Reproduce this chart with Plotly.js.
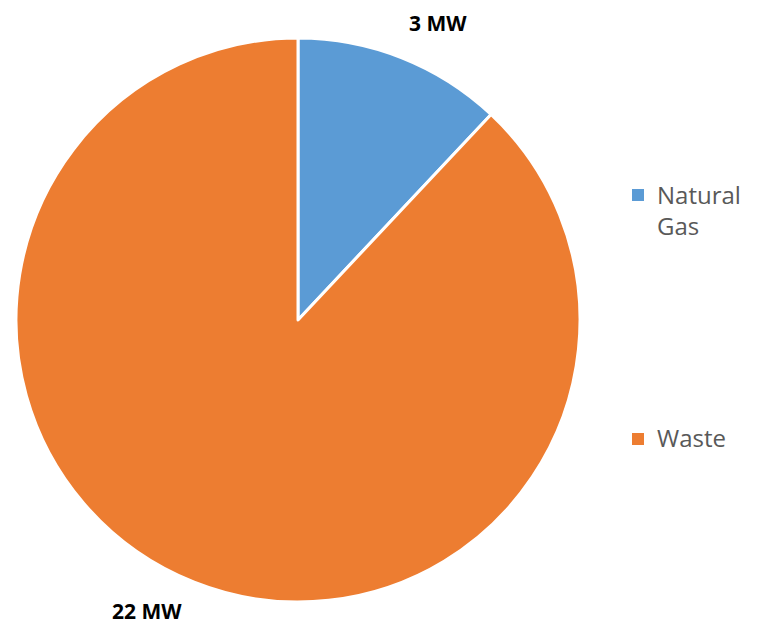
<!DOCTYPE html>
<html>
<head>
<meta charset="utf-8">
<script src="https://cdn.plot.ly/plotly-3.0.1.min.js"></script>
<style>
  html, body { margin: 0; padding: 0; background: #ffffff; }
  #chart { width: 766px; height: 626px; }
</style>
</head>
<body>
<div id="chart"></div>
<script>
// Installed capacity by fuel source (MW)
const sources = ["Natural Gas", "Waste"];
const capacityMW = [3, 22];
const sliceColors = ["#5B9BD5", "#ED7D31"];

const W = 766, H = 626;
const px = x => x / W;
const py = y => 1 - y / H;

// Value labels placed beside each slice
const valueLabelPos = [[438, 23], [147, 611]];
// Legend rows: square marker + wrapped name
const legendPos = [[638, 195, 655, 210], [638, 439, 655, 437]];

const trace = {
  type: "pie",
  labels: sources,
  values: capacityMW,
  sort: false,
  direction: "clockwise",
  rotation: 0,
  textinfo: "none",
  hoverinfo: "label+value",
  marker: { colors: sliceColors, line: { color: "#ffffff", width: 3 } },
  domain: { x: [px(16), px(580)], y: [py(602), py(38)] },
  showlegend: false
};

const annotations = [];
const shapes = [];

capacityMW.forEach((v, i) => {
  annotations.push({
    xref: "paper", yref: "paper",
    x: px(valueLabelPos[i][0]), y: py(valueLabelPos[i][1]),
    xanchor: "center", yanchor: "middle",
    borderpad: 0,
    text: "<b>" + v + " MW</b>",
    showarrow: false,
    font: { family: "Open Sans, sans-serif", size: 21, color: "#000000" }
  });
});

sources.forEach((name, i) => {
  const [sx, sy, tx, ty] = legendPos[i];
  shapes.push({
    type: "rect", xref: "paper", yref: "paper",
    x0: px(sx - 6), x1: px(sx + 6), y0: py(sy + 6), y1: py(sy - 6),
    fillcolor: sliceColors[i], line: { width: 0 }
  });
  annotations.push({
    xref: "paper", yref: "paper",
    x: px(tx), y: py(ty),
    xanchor: "left", yanchor: "middle", align: "left",
    text: name.split(" ").join("<br>"),
    showarrow: false,
    font: { family: "Open Sans, sans-serif", size: 24, color: "#595959" }
  });
});

const layout = {
  width: W, height: H,
  margin: { l: 0, r: 0, t: 0, b: 0 },
  paper_bgcolor: "#ffffff",
  plot_bgcolor: "#ffffff",
  annotations: annotations,
  shapes: shapes
};

Plotly.newPlot("chart", [trace], layout, { displayModeBar: false, staticPlot: true });
</script>
</body>
</html>
